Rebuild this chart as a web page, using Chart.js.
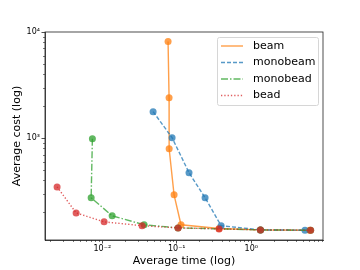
<!DOCTYPE html>
<html>
<head>
<meta charset="utf-8">
<script src="https://cdn.jsdelivr.net/npm/chart.js@4"></script>
<style>
  body { margin: 0; background: #fff; }
  #grafico { display: block; }
</style>
</head>
<body>
<canvas id="grafico" width="360" height="270"></canvas>
<script>
// valores (tempo médio, custo médio)
const beamTime = [0.0764, 0.0788, 0.079, 0.092, 0.114, 0.37, 1.33, 6.1];
const beamCost = [8130, 2410, 796, 293, 153, 141, 137, 136];
const monobeamTime = [0.0481, 0.0865, 0.146, 0.240, 0.394, 1.33, 5.27];
const monobeamCost = [1778, 1011, 473, 275, 150, 137, 136];
const monobeadTime = [0.00736, 0.00708, 0.01355, 0.0364, 0.104, 1.33, 6.28];
const monobeadCost = [990, 275, 186, 153, 143, 137, 136];
const beadTime = [0.00247, 0.00445, 0.01057, 0.0342, 0.104, 0.37, 1.33, 6.28];
const beadCost = [348, 198, 163, 150, 143, 140, 137, 136];

const xTicks = [0.01, 0.1, 1];
const xTickLabels = ['10⁻²', '10⁻¹', '10⁰'];
const yTicks = [1000, 10000];
const yTickLabels = ['10³', '10⁴'];

function pontos(xs, ys) {
    return xs.map((x, i) => ({ x: x, y: ys[i] }));
}

function serie(label, xs, ys, cor, dash, ordem) {
    return {
        label: label,
        data: pontos(xs, ys),
        borderColor: cor,
        backgroundColor: cor,
        pointBackgroundColor: cor,
        pointBorderWidth: 0,
        pointRadius: 3.5,
        borderWidth: 1.4,
        borderDash: dash,
        order: ordem,
        tension: 0
    };
}

// ticks menores (2..9 em cada década) desenhados à mão pela escala
function minorValues(min, max) {
    let vals = [];
    for (let e = -4; e <= 5; e++) {
        for (let m = 2; m <= 9; m++) {
            const v = m * Math.pow(10, e);
            if (v > min && v < max) vals.push(v);
        }
    }
    return vals;
}

const framePlugin = {
    id: 'frame',
    afterDraw(chart) {
        const { ctx, chartArea: a, scales } = chart;
        ctx.save();
        ctx.strokeStyle = '#222';
        ctx.lineWidth = 0.8;
        ctx.strokeRect(a.left, a.top, a.right - a.left, a.bottom - a.top);

        ctx.lineWidth = 0.6;
        ctx.beginPath();
        minorValues(scales.x.min, scales.x.max).forEach(v => {
            const px = Math.round(scales.x.getPixelForValue(v)) + 0.5;
            ctx.moveTo(px, a.bottom);
            ctx.lineTo(px, a.bottom + 2);
        });
        minorValues(scales.y.min, scales.y.max).forEach(v => {
            const py = Math.round(scales.y.getPixelForValue(v)) + 0.5;
            ctx.moveTo(a.left, py);
            ctx.lineTo(a.left - 2, py);
        });
        ctx.stroke();
        ctx.restore();
    }
};

const legendPlugin = {
    id: 'legendBox',
    afterDraw(chart) {
        const ctx = chart.ctx;
        const a = chart.chartArea;
        const x0 = a.right - 106, y0 = a.top + 5, w = 101, h = 68;
        ctx.save();
        ctx.fillStyle = 'rgba(255,255,255,0.8)';
        ctx.strokeStyle = '#d6d6d6';
        ctx.lineWidth = 1;
        ctx.beginPath();
        ctx.roundRect(x0 + 0.5, y0 + 0.5, w, h, 2);
        ctx.fill();
        ctx.stroke();

        chart.data.datasets.forEach((ds, i) => {
            const y = y0 + 9 + i * 16.5;
            ctx.strokeStyle = ds.borderColor;
            ctx.lineWidth = ds.borderWidth;
            ctx.setLineDash(ds.borderDash || []);
            ctx.beginPath();
            ctx.moveTo(x0 + 4, y);
            ctx.lineTo(x0 + 26, y);
            ctx.stroke();
            ctx.setLineDash([]);
            ctx.fillStyle = '#000';
            ctx.font = '11px "DejaVu Sans"';
            ctx.textBaseline = 'middle';
            ctx.fillText(ds.label, x0 + 36, y);
        });
        ctx.restore();
    }
};

const ctx = document.getElementById('grafico').getContext('2d');

new Chart(ctx, {
    type: 'line',
    data: {
        datasets: [
            serie('beam', beamTime, beamCost, 'rgba(255,127,14,0.75)', [], 4),
            serie('monobeam', monobeamTime, monobeamCost, 'rgba(31,119,180,0.75)', [4, 2], 3),
            serie('monobead', monobeadTime, monobeadCost, 'rgba(44,160,44,0.75)', [7, 2, 1.5, 2], 2),
            serie('bead', beadTime, beadCost, 'rgba(214,39,40,0.75)', [1.3, 2], 1)
        ]
    },
    options: {
        responsive: false,
        animation: false,
        devicePixelRatio: 1,
        layout: { padding: { top: 32, right: 37, left: 0, bottom: 0 } },
        plugins: {
            legend: { display: false },
            tooltip: { enabled: false }
        },
        scales: {
            x: {
                type: 'logarithmic',
                min: 0.0017,
                max: 9.2,
                afterBuildTicks: (scale) => {
                    scale.ticks = xTicks.map(v => ({ value: v }));
                },
                afterFit: (scale) => { scale.height = 30; },
                ticks: {
                    autoSkip: false,
                    maxRotation: 0,
                    padding: 1,
                    color: '#000',
                    font: { family: 'DejaVu Sans', size: 8 },
                    callback: (v, i) => xTickLabels[i]
                },
                grid: {
                    drawOnChartArea: false,
                    tickLength: 3.5,
                    tickColor: '#222',
                    tickWidth: 0.8
                },
                border: { display: true, color: '#222', width: 0.8 },
                title: {
                    display: true,
                    text: 'Average time (log)',
                    color: '#000',
                    font: { family: 'DejaVu Sans', size: 11 },
                    padding: { top: 0, bottom: 2 }
                }
            },
            y: {
                type: 'logarithmic',
                min: 110,
                max: 10000,
                afterBuildTicks: (scale) => {
                    scale.ticks = yTicks.map(v => ({ value: v }));
                },
                afterFit: (scale) => { scale.width = 45; },
                ticks: {
                    padding: 1.5,
                    color: '#000',
                    font: { family: 'DejaVu Sans', size: 8 },
                    callback: (v, i) => yTickLabels[i]
                },
                grid: {
                    drawOnChartArea: false,
                    tickLength: 3.5,
                    tickColor: '#222',
                    tickWidth: 0.8
                },
                border: { display: true, color: '#222', width: 0.8 },
                title: {
                    display: true,
                    text: 'Average cost (log)',
                    color: '#000',
                    font: { family: 'DejaVu Sans', size: 11 },
                    padding: { top: 11, bottom: 0 }
                }
            }
        }
    },
    plugins: [framePlugin, legendPlugin]
});
</script>
</body>
</html>
